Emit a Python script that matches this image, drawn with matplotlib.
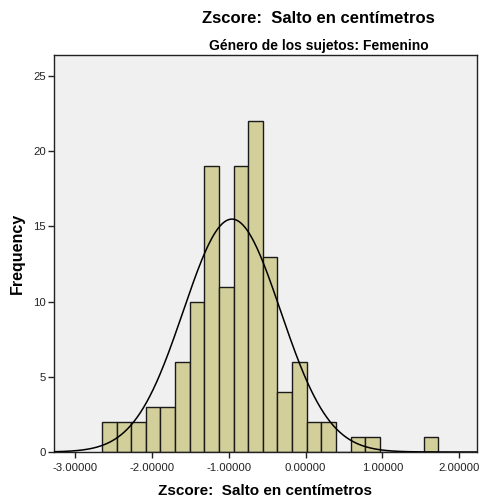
import numpy as np
import matplotlib
matplotlib.use("Agg")
import matplotlib.pyplot as plt

# histogram
first_edge = -2.649
bin_width = 0.1902
counts = [2, 2, 2, 3, 3, 6, 10, 19, 11, 19, 22, 13, 4, 6, 2, 2, 0, 1, 1, 0, 0, 0, 1]

# normal curve parameters (estimated from the drawn curve)
mean = -0.958
std = 0.632

xticks = [-3, -2, -1, 0, 1, 2]
xtick_labels = ["-3.00000", "-2.00000", "-1.00000", "0.00000", "1.00000", "2.00000"]
yticks = [0, 5, 10, 15, 20, 25]

title = "Zscore:  Salto en centímetros"
subtitle = "Género de los sujetos: Femenino"
xlabel = "Zscore:  Salto en centímetros"
ylabel = "Frequency"

plt.rcParams['font.family'] = ['Liberation Sans', 'DejaVu Sans']

fig = plt.figure(figsize=(4.82, 5.04), dpi=100)
ax = fig.add_axes([54 / 482, 52 / 504, 423 / 482, 397 / 504])
ax.set_facecolor("#f0f0f0")

counts = np.array(counts)
edges = first_edge + bin_width * np.arange(len(counts))
n = counts.sum()

ax.bar(edges, counts, width=bin_width, align="edge",
       color="#d3cf9a", edgecolor="#1a1a1a", linewidth=1.0, zorder=2)

xs = np.linspace(-3.3, 2.3, 400)
pdf = n * bin_width / (std * np.sqrt(2 * np.pi)) * np.exp(-0.5 * ((xs - mean) / std) ** 2)
ax.plot(xs, pdf, color="black", linewidth=1.1, zorder=3)

ax.set_xlim(-3.273, 2.23)
ax.set_ylim(0, 26.4)
ax.set_xticks(xticks)
ax.set_xticklabels(xtick_labels)
ax.set_yticks(yticks)
ax.tick_params(direction="out", length=4, width=1, labelsize=8.2, pad=2, colors="#222222")
ax.tick_params(axis="x", pad=4)
for s in ax.spines.values():
    s.set_color("#222222")
    s.set_linewidth(1.0)

ax.set_xlabel(xlabel, fontsize=11, fontweight="bold", labelpad=8)
ax.set_ylabel(ylabel, fontsize=11.5, fontweight="bold", labelpad=5.5)

fig.text(318 / 482, 1 - 22.7 / 504, title, ha="center", va="baseline",
         fontsize=12, fontweight="bold")
fig.text(319 / 482, 1 - 50 / 504, subtitle, ha="center", va="baseline",
         fontsize=10, fontweight="bold")

fig.savefig("out.png", dpi=100)
